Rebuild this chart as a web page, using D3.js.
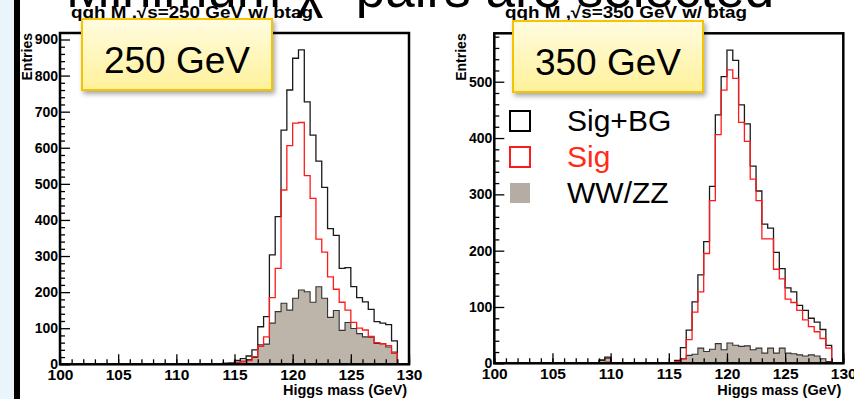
<!DOCTYPE html>
<html lang="en">
<head>
<meta charset="UTF-8">
<title>qqh Higgs mass, 250 / 350 GeV</title>
<script src="https://d3js.org/d3.v7.min.js"></script>
<style>
  body { margin: 0; background: #fff; overflow: hidden; }
  svg { display: block; font-family: "Liberation Sans", Arial, Helvetica, sans-serif; }
  .axis text { font-weight: bold; fill: #000; }
  .axis path { display: none; }
  .axis line { stroke: #000; stroke-width: 1.3px; }
</style>
</head>
<body>
<script>
// 60 bins of 0.5 GeV between 100 and 130 GeV
const xDomain = [100, 130];
const binWidth = 0.5;
const xMajor = [100, 105, 110, 115, 120, 125, 130];
const xMinor = d3.range(100, 131, 1);

// sqrt(s) = 250 GeV, entries per bin
const tot250 = [
  0,0,0,0,0,0,0,0,0,0,
  0,0,0,0,0,0,0,0,0,0,
  0,0,0,0,0,0,0,0,3,4,
  11,16,23,40,104,132,303,409,649,760,
  848,871,727,635,563,490,376,357,266,268,
  215,185,173,152,118,114,110,65,0,0
];
const sig250 = [
  0,0,0,0,0,0,0,0,0,0,
  0,0,0,0,0,0,0,0,0,0,
  0,0,0,0,0,0,0,0,1,2,
  4,7,10,21,50,76,185,266,483,606,
  668,670,523,460,347,311,242,208,172,150,
  116,100,95,77,60,57,52,30,0,0
];
const bg250 = [
  0,0,0,0,0,0,0,0,0,0,
  0,0,0,0,0,0,0,0,0,0,
  0,0,0,0,0,0,0,0,2,2,
  6,9,13,19,54,56,114,146,169,150,
  183,206,201,172,215,183,130,149,94,116,
  99,85,76,75,58,57,48,34,0,0
];

// sqrt(s) = 350 GeV
const tot350 = [
  0,0,0,0,0,0,0,0,0,0,
  0,0,0,0,0,0,0,0,6,11,
  0,0,0,0,0,0,0,0,0,0,
  1,5,28,59,109,157,216,314,441,509,
  556,538,459,425,350,306,247,240,197,168,
  134,127,103,94,80,73,60,32,0,0
];
const sig350 = [
  0,0,0,0,0,0,0,0,0,0,
  0,0,0,0,0,0,0,0,0,2,
  0,0,0,0,0,0,0,0,0,0,
  0,3,8,42,91,127,195,289,406,485,
  521,506,428,394,327,289,221,221,167,150,
  114,108,94,77,65,56,44,27,0,0
];
const bg350 = [
  0,0,0,0,0,0,0,0,0,0,
  0,0,0,0,0,0,0,0,5,9,
  0,0,0,0,0,0,0,0,0,0,
  0,2,8,14,16,27,21,25,35,24,
  36,32,30,31,24,27,18,27,18,27,
  18,17,15,13,15,13,8,3,0,0
];

const yMajor250 = [0, 100, 200, 300, 400, 500, 600, 700, 800, 900];
const yMajor350 = [0, 100, 200, 300, 400, 500];
const legendLabels = ["Sig+BG", "Sig", "WW/ZZ"];

const W = 854, H = 399;
const svg = d3.select("body").append("svg").attr("width", W).attr("height", H);

const defs = svg.append("defs");
const grad = defs.append("linearGradient").attr("id", "boxFill")
  .attr("x1", 0).attr("y1", 0).attr("x2", 0).attr("y2", 1);
grad.append("stop").attr("offset", "0%").attr("stop-color", "#fffce0");
grad.append("stop").attr("offset", "100%").attr("stop-color", "#fff19a");
const shadow = defs.append("filter").attr("id", "shadow")
  .attr("x", "-20%").attr("y", "-20%").attr("width", "150%").attr("height", "160%");
shadow.append("feDropShadow").attr("dx", 2).attr("dy", 3).attr("stdDeviation", 2.5)
  .attr("flood-color", "#000").attr("flood-opacity", 0.35);

// slide background pieces
svg.append("rect").attr("x", 0).attr("y", 0).attr("width", 14).attr("height", H).attr("fill", "#eaf5fb");
svg.append("rect").attr("x", 14).attr("y", 0).attr("width", 6).attr("height", H).attr("fill", "#000");

// slide heading, cut off by the top edge
svg.append("text")
  .attr("x", 66).attr("y", 7)
  .attr("font-size", 53).attr("fill", "#000")
  .text("Minimum χ² pairs are selected");

const panels = [
  { tot: tot250, sig: sig250, bg: bg250, yMax: 918, yMajor: yMajor250,
    left: 60, right: 409, top: 33, bottom: 364.3,
    title: "qqh M ,√s=250 GeV w/ btag", titleX: 71,
    box: "250 GeV", boxX: 82, boxY: 19, legend: false },
  { tot: tot350, sig: sig350, bg: bg350, yMax: 586, yMajor: yMajor350,
    left: 494.3, right: 843.3, top: 33.3, bottom: 363.3,
    title: "qqh M ,√s=350 GeV w/ btag", titleX: 505,
    box: "350 GeV", boxX: 513, boxY: 21, legend: true }
];

panels.forEach(p => {
  const x = d3.scaleLinear().domain(xDomain).range([p.left, p.right]);
  const y = d3.scaleLinear().domain([0, p.yMax]).range([p.bottom, p.top]);
  const g = svg.append("g");

  // bin edges with a closing point at 130
  const pts = vals => vals.map((v, i) => [xDomain[0] + i * binWidth, v])
    .concat([[xDomain[1], vals[vals.length - 1]]]);

  const area = d3.area().curve(d3.curveStepAfter)
    .x(d => x(d[0])).y0(y(0)).y1(d => y(d[1]));
  const line = d3.line().curve(d3.curveStepAfter)
    .x(d => x(d[0])).y(d => y(d[1]));

  g.append("path").attr("d", area(pts(p.bg)))
    .attr("fill", "#bdb4aa").attr("stroke", "#333").attr("stroke-width", 1.1);
  g.append("path").attr("d", line(pts(p.tot)))
    .attr("fill", "none").attr("stroke", "#1a1a1a").attr("stroke-width", 1.3);
  g.append("path").attr("d", line(pts(p.sig)))
    .attr("fill", "none").attr("stroke", "#ff1a1a").attr("stroke-width", 1.3);

  // axes, ticks pointing into the frame
  const yMinor = d3.range(0, p.yMax, 20).filter(v => v % 100 !== 0);
  g.append("g").attr("class", "axis").attr("transform", `translate(${p.left},0)`)
    .call(d3.axisLeft(y).tickValues(yMinor).tickSize(-5).tickFormat(""));
  g.append("g").attr("class", "axis").attr("transform", `translate(${p.left},0)`)
    .call(d3.axisLeft(y).tickValues(p.yMajor).tickSize(-10).tickPadding(2).tickFormat(d3.format("d")))
    .selectAll("text").attr("font-size", 14);

  g.append("g").attr("class", "axis").attr("transform", `translate(0,${p.bottom})`)
    .call(d3.axisBottom(x).tickValues(xMinor).tickSize(-5).tickFormat(""));
  g.append("g").attr("class", "axis").attr("transform", `translate(0,${p.bottom})`)
    .call(d3.axisBottom(x).tickValues(xMajor).tickSize(-10).tickPadding(5).tickFormat(d3.format("d")))
    .selectAll("text").attr("font-size", 15.5);

  // frame
  g.append("rect").attr("x", p.left).attr("y", p.top)
    .attr("width", p.right - p.left).attr("height", p.bottom - p.top)
    .attr("fill", "none").attr("stroke", "#000").attr("stroke-width", 2.5);

  // axis titles
  g.append("text").attr("x", p.right - 2).attr("y", 395)
    .attr("text-anchor", "end").attr("font-weight", "bold").attr("font-size", 14.5)
    .text("Higgs mass (GeV)");
  g.append("text")
    .attr("transform", `translate(${p.left - 28},${p.top}) rotate(-90)`)
    .attr("text-anchor", "end").attr("font-weight", "bold").attr("font-size", 14)
    .text("Entries");

  // histogram title
  g.append("text").attr("x", p.titleX).attr("y", 18)
    .attr("font-weight", "bold").attr("font-size", 17)
    .attr("textLength", 242).attr("lengthAdjust", "spacingAndGlyphs")
    .text(p.title);

  // legend
  if (p.legend) {
    const lg = g.append("g").attr("transform", "translate(509,110)");
    const sw = [
      { fill: "none", stroke: "#000" },
      { fill: "none", stroke: "#ff1a1a" },
      { fill: "#b5ada4", stroke: "none" }
    ];
    legendLabels.forEach((lab, i) => {
      const row = lg.append("g").attr("transform", `translate(0,${i * 36})`);
      row.append("rect").attr("x", 1).attr("y", 1).attr("width", 20).attr("height", 20)
        .attr("fill", sw[i].fill).attr("stroke", sw[i].stroke).attr("stroke-width", 2);
      row.append("text").attr("x", 58).attr("y", 21)
        .attr("font-size", 30).attr("fill", i === 1 ? "#ff2a1a" : "#000")
        .text(lab);
    });
  }

  // yellow callout
  const bw = 190, bh = 71;
  g.append("rect").attr("x", p.boxX).attr("y", p.boxY).attr("width", bw).attr("height", bh)
    .attr("fill", "url(#boxFill)").attr("stroke", "#f5c400").attr("stroke-width", 2)
    .attr("filter", "url(#shadow)");
  g.append("text").attr("x", p.boxX + bw / 2).attr("y", p.boxY + 54)
    .attr("text-anchor", "middle").attr("font-size", 37).attr("fill", "#000")
    .text(p.box);
});
</script>
</body>
</html>
